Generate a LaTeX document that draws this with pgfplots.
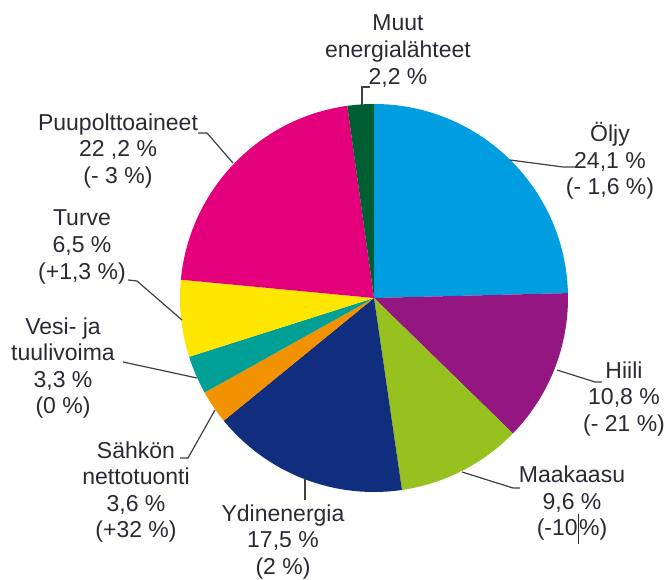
\documentclass[border=0pt]{standalone}
\usepackage{fontspec}
\setmainfont{Liberation Sans}
\usepackage{pgfplots}
\pgfplotsset{compat=1.18}

\definecolor{cOljy}{HTML}{009EE0}
\definecolor{cHiili}{HTML}{931681}
\definecolor{cMaakaasu}{HTML}{96C11F}
\definecolor{cYdin}{HTML}{112D7E}
\definecolor{cSahko}{HTML}{F39200}
\definecolor{cVesi}{HTML}{00A096}
\definecolor{cTurve}{HTML}{FFE600}
\definecolor{cPuu}{HTML}{E4007D}
\definecolor{cMuut}{HTML}{005F32}
\definecolor{txt}{HTML}{2A2A36}

\tikzset{lbl/.style={font=\fontsize{11.5}{13.3}\selectfont, text=txt, align=center, inner sep=0pt}}

% slice: #1 = share before it (%), #2 = its share (%), #3 = colour
\newcommand{\pieslice}[3]{%
  \fill[#3] (axis cs:374,298) -- ++({90-(#1)/100*360}:97pt)
    arc[start angle={90-(#1)/100*360}, end angle={90-(#1+#2)/100*360}, radius=97pt] -- cycle;}

\begin{document}
\begin{tikzpicture}
\begin{axis}[
    x=0.5pt, y=0.5pt,
    xmin=0, xmax=666, ymin=0, ymax=578,
    y dir=reverse,
    hide axis,
    clip=false,
]
\path (rel axis cs:0,0) rectangle (rel axis cs:1,1);

% pie, clockwise from 12 o'clock (slice sizes as drawn in the chart)
\pieslice{0}{24.6}{cOljy}
\pieslice{24.6}{12.7}{cHiili}
\pieslice{37.3}{10.4}{cMaakaasu}
\pieslice{47.7}{16.4}{cYdin}
\pieslice{64.1}{2.8}{cSahko}
\pieslice{66.9}{3.2}{cVesi}
\pieslice{70.1}{6.4}{cTurve}
\pieslice{76.5}{21.3}{cPuu}
\pieslice{97.8}{2.2}{cMuut}

% leader lines
\begin{scope}[draw=black!75, line width=0.6pt]
\draw (axis cs:362,105) -- (axis cs:362,87) -- (axis cs:370,87);
\draw (axis cs:510,160) -- (axis cs:563,167) -- (axis cs:576,167);
\draw (axis cs:557,370) -- (axis cs:595,382) -- (axis cs:602,382);
\draw (axis cs:462,472) -- (axis cs:513,488) -- (axis cs:520,488);
\draw (axis cs:305,478) -- (axis cs:305,500);
\draw (axis cs:215,410) -- (axis cs:188,458) -- (axis cs:180,458);
\draw (axis cs:123,362) -- (axis cs:197,378);
\draw (axis cs:128,280) -- (axis cs:137,281) -- (axis cs:182,320);
\draw (axis cs:198,133) -- (axis cs:207,133) -- (axis cs:233,163);
\end{scope}

% labels
\node[lbl] at (axis cs:398,51) {Muut\\energialähteet\\2,2 \%};
\node[lbl] at (axis cs:610,161) {Öljy\\24,1 \%\\(- 1,6 \%)};
\node[lbl] at (axis cs:624,399) {Hiili\\10,8 \%\\(- 21 \%)};
\node[lbl] at (axis cs:572,505) {Maakaasu\\9,6 \%\\(-10\rule[-0.35em]{0.7pt}{1.3em}\%)};
\node[lbl] at (axis cs:283,542) {Ydinenergia\\17,5 \%\\(2 \%)};
\node[lbl] at (axis cs:136,492) {Sähkön\\nettotuonti\\3,6 \%\\(+32 \%)};
\node[lbl] at (axis cs:63,368) {Vesi- ja\\tuulivoima\\3,3 \%\\(0 \%)};
\node[lbl] at (axis cs:82,247) {Turve\\6,5 \%\\(+1,3 \%)};
\node[lbl] at (axis cs:118,151) {Puupolttoaineet\\22 ,2 \%\\(- 3 \%)};
\end{axis}
\end{tikzpicture}
\end{document}
